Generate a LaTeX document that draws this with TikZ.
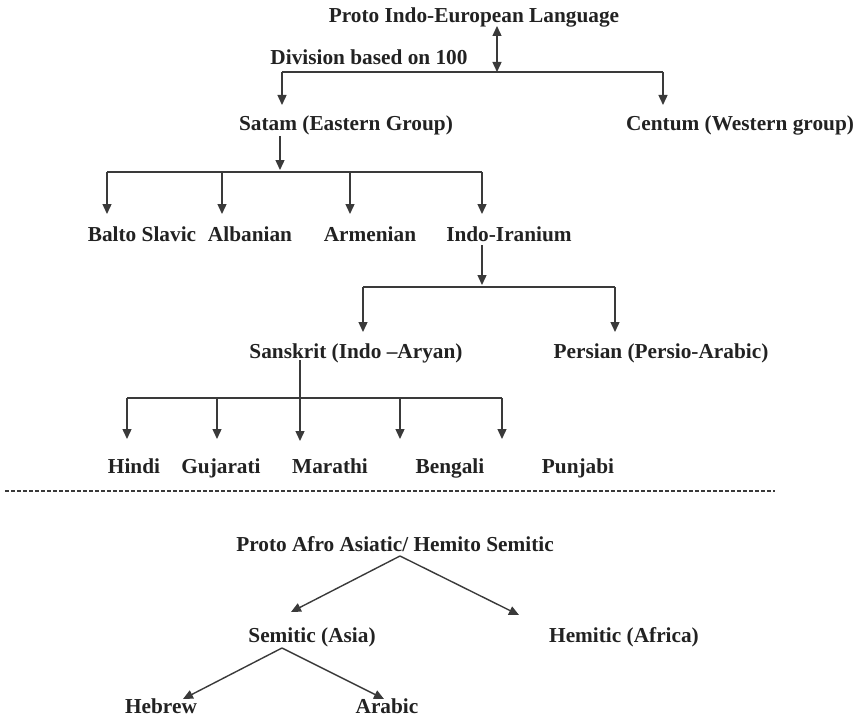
\documentclass[tikz,border=0pt]{standalone}
\usepackage{fontspec}
\setmainfont{Liberation Serif}
\usetikzlibrary{arrows.meta}
\definecolor{ink}{HTML}{222222}
\definecolor{lineC}{HTML}{3A3A3A}
\tikzset{
  lbl/.style={inner sep=0pt, text=ink, text height=14pt, text depth=4pt, font=\fontsize{21.3}{24}\selectfont\bfseries},
  hbar/.style={draw=lineC, line width=2.2pt},
  arr/.style={draw=lineC, line width=1.4pt, -{Triangle[width=9pt,length=10pt]}},
  darr/.style={draw=lineC, line width=1.4pt, {Triangle[width=9pt,length=10pt]}-{Triangle[width=9pt,length=10pt]}},
  sep/.style={draw=lineC, line width=1.3pt, dash pattern=on 4pt off 2pt},
}
\begin{document}
\begin{tikzpicture}[x=1pt,y=-1pt]
\useasboundingbox (0,0) rectangle (860,717);
% --- Proto Indo-European tree ---
\node[lbl] (pie) at (474,18) {Proto Indo-European Language};
\node[lbl] (div) at (369,60) {Division based on 100};
\node[lbl] (satam) at (346,125) {Satam (Eastern Group)};
\node[lbl] (centum) at (740,125) {Centum (Western group)};
\node[lbl] (balto) at (142,236) {Balto Slavic};
\node[lbl] (alb) at (250,236) {Albanian};
\node[lbl] (arm) at (370,236) {Armenian};
\node[lbl] (indoir) at (509,236) {Indo-Iranium};
\node[lbl] (sans) at (356,353) {Sanskrit (Indo --Aryan)};
\node[lbl] (pers) at (661,353) {Persian (Persio-Arabic)};
\node[lbl] (hindi) at (134,468) {Hindi};
\node[lbl] (guj) at (221,468) {Gujarati};
\node[lbl] (mar) at (330,468) {Marathi};
\node[lbl] (beng) at (450,468) {Bengali};
\node[lbl] (pun) at (578,468) {Punjabi};
% junction coordinates
\coordinate (pieT) at (497,26);
\coordinate (j1) at (497,72);
\coordinate (j1L) at (282,72);
\coordinate (j1R) at (663,72);
\coordinate (tSatam) at (282,105);
\coordinate (tCentum) at (663,105);
\draw[darr] (pieT) -- (j1);
\draw[hbar] (j1L) -- (j1R);
\draw[arr] (j1L) -- (tSatam);
\draw[arr] (j1R) -- (tCentum);
% satam branch
\coordinate (s0) at (280,136);
\coordinate (s1) at (280,170);
\coordinate (j2L) at (107,172);
\coordinate (j2b) at (222,172);
\coordinate (j2c) at (350,172);
\coordinate (j2R) at (482,172);
\draw[arr] (s0) -- (s1);
\draw[hbar] (j2L) -- (j2R);
\draw[arr] (j2L) -- (107,214);
\draw[arr] (j2b) -- (222,214);
\draw[arr] (j2c) -- (350,214);
\draw[arr] (j2R) -- (482,214);
% indo-iranian branch
\coordinate (i0) at (482,245);
\coordinate (i1) at (482,285);
\coordinate (j3L) at (363,287);
\coordinate (j3R) at (615,287);
\draw[arr] (i0) -- (i1);
\draw[hbar] (j3L) -- (j3R);
\draw[arr] (j3L) -- (363,332);
\draw[arr] (j3R) -- (615,332);
% sanskrit branch
\coordinate (k0) at (300,360);
\coordinate (j4L) at (127,398);
\coordinate (j4b) at (217,398);
\coordinate (j4d) at (400,398);
\coordinate (j4R) at (502,398);
\draw[arr] (k0) -- (300,441);
\draw[hbar] (j4L) -- (j4R);
\draw[arr] (j4L) -- (127,439);
\draw[arr] (j4b) -- (217,439);
\draw[arr] (j4d) -- (400,439);
\draw[arr] (j4R) -- (502,439);
% separator
\coordinate (sepL) at (5,491);
\coordinate (sepR) at (775,491);
\draw[sep] (sepL) -- (sepR);
% --- Afro-Asiatic tree ---
\node[lbl] (afro) at (395,546) {Proto Afro Asiatic/ Hemito Semitic};
\node[lbl] (sem) at (312,637) {Semitic (Asia)};
\node[lbl] (ham) at (624,637) {Hemitic (Africa)};
\node[lbl] (heb) at (161,708) {Hebrew};
\node[lbl] (arab) at (387,708) {Arabic};
\coordinate (a0) at (400,556);
\coordinate (aL) at (291,612);
\coordinate (aR) at (519,615);
\draw[arr] (a0) -- (aL);
\draw[arr] (a0) -- (aR);
\coordinate (b0) at (282,648);
\coordinate (bL) at (183,699);
\coordinate (bR) at (384,699);
\draw[arr] (b0) -- (bL);
\draw[arr] (b0) -- (bR);
\end{tikzpicture}
\end{document}
